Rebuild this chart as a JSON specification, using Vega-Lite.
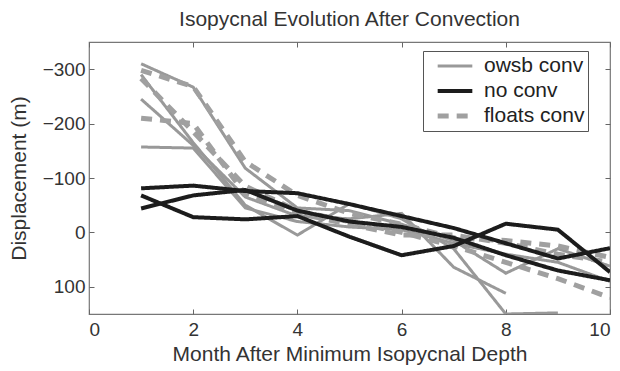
{
  "$schema": "https://vega.github.io/schema/vega-lite/v6.json",
  "width": 521,
  "height": 272,
  "autosize": {"type": "none"},
  "padding": {"left": 89, "top": 42, "right": 10, "bottom": 57},
  "background": "white",
  "title": {
    "text": "Isopycnal Evolution After Convection",
    "font": "Liberation Sans",
    "fontSize": 21,
    "fontWeight": "normal",
    "color": "#333333",
    "offset": 12
  },
  "config": {
    "view": {"stroke": "#777777", "strokeWidth": 1.2},
    "axis": {
      "labelFont": "Liberation Sans",
      "labelFontSize": 19,
      "labelColor": "#333333",
      "titleFont": "Liberation Sans",
      "titleFontSize": 21,
      "titleFontWeight": "normal",
      "titleColor": "#333333",
      "domain": false,
      "grid": false,
      "tickColor": "#666666",
      "tickSize": -5,
      "tickWidth": 1
    }
  },
  "data": {
    "values": [
      {"series": "S1", "type": "owsb conv", "month": 1, "disp": -310},
      {"series": "S1", "type": "owsb conv", "month": 2, "disp": -267},
      {"series": "S1", "type": "owsb conv", "month": 3, "disp": -118},
      {"series": "S1", "type": "owsb conv", "month": 4, "disp": -45},
      {"series": "S1", "type": "owsb conv", "month": 5, "disp": -40},
      {"series": "S1", "type": "owsb conv", "month": 6, "disp": -15},
      {"series": "S1", "type": "owsb conv", "month": 7, "disp": 15},
      {"series": "S1", "type": "owsb conv", "month": 8, "disp": 75},
      {"series": "S1", "type": "owsb conv", "month": 9, "disp": 30},
      {"series": "S1", "type": "owsb conv", "month": 10, "disp": 62},
      {"series": "S2", "type": "owsb conv", "month": 1, "disp": -290},
      {"series": "S2", "type": "owsb conv", "month": 2, "disp": -165},
      {"series": "S2", "type": "owsb conv", "month": 3, "disp": -50},
      {"series": "S2", "type": "owsb conv", "month": 4, "disp": 5},
      {"series": "S2", "type": "owsb conv", "month": 5, "disp": -53},
      {"series": "S2", "type": "owsb conv", "month": 6, "disp": -25},
      {"series": "S2", "type": "owsb conv", "month": 7, "disp": 30},
      {"series": "S2", "type": "owsb conv", "month": 8, "disp": 150},
      {"series": "S2", "type": "owsb conv", "month": 9, "disp": 148},
      {"series": "S3", "type": "owsb conv", "month": 1, "disp": -245},
      {"series": "S3", "type": "owsb conv", "month": 2, "disp": -160},
      {"series": "S3", "type": "owsb conv", "month": 3, "disp": -65},
      {"series": "S3", "type": "owsb conv", "month": 4, "disp": -30},
      {"series": "S3", "type": "owsb conv", "month": 5, "disp": -25},
      {"series": "S3", "type": "owsb conv", "month": 6, "disp": -35},
      {"series": "S3", "type": "owsb conv", "month": 7, "disp": 64},
      {"series": "S3", "type": "owsb conv", "month": 8, "disp": 112},
      {"series": "S4", "type": "owsb conv", "month": 1, "disp": -157},
      {"series": "S4", "type": "owsb conv", "month": 2, "disp": -155},
      {"series": "S4", "type": "owsb conv", "month": 3, "disp": -45},
      {"series": "S4", "type": "owsb conv", "month": 4, "disp": -20},
      {"series": "S4", "type": "owsb conv", "month": 5, "disp": -10},
      {"series": "S4", "type": "owsb conv", "month": 6, "disp": -5},
      {"series": "S4", "type": "owsb conv", "month": 7, "disp": 20},
      {"series": "S4", "type": "owsb conv", "month": 8, "disp": 40},
      {"series": "S4", "type": "owsb conv", "month": 9, "disp": 55},
      {"series": "S4", "type": "owsb conv", "month": 10, "disp": 90},
      {"series": "D1", "type": "floats conv", "month": 1, "disp": -298},
      {"series": "D1", "type": "floats conv", "month": 2, "disp": -268},
      {"series": "D1", "type": "floats conv", "month": 3, "disp": -130},
      {"series": "D1", "type": "floats conv", "month": 4, "disp": -68},
      {"series": "D1", "type": "floats conv", "month": 5, "disp": -35},
      {"series": "D1", "type": "floats conv", "month": 6, "disp": -15},
      {"series": "D1", "type": "floats conv", "month": 7, "disp": 10},
      {"series": "D1", "type": "floats conv", "month": 8, "disp": 15},
      {"series": "D1", "type": "floats conv", "month": 9, "disp": 25},
      {"series": "D1", "type": "floats conv", "month": 10, "disp": 46},
      {"series": "D2", "type": "floats conv", "month": 1, "disp": -283},
      {"series": "D2", "type": "floats conv", "month": 2, "disp": -185},
      {"series": "D2", "type": "floats conv", "month": 3, "disp": -85},
      {"series": "D2", "type": "floats conv", "month": 4, "disp": -40},
      {"series": "D2", "type": "floats conv", "month": 5, "disp": -20},
      {"series": "D2", "type": "floats conv", "month": 6, "disp": 0},
      {"series": "D2", "type": "floats conv", "month": 7, "disp": 25},
      {"series": "D2", "type": "floats conv", "month": 8, "disp": 55},
      {"series": "D2", "type": "floats conv", "month": 9, "disp": 85},
      {"series": "D2", "type": "floats conv", "month": 10, "disp": 120},
      {"series": "D3", "type": "floats conv", "month": 1, "disp": -210},
      {"series": "D3", "type": "floats conv", "month": 2, "disp": -200},
      {"series": "D3", "type": "floats conv", "month": 3, "disp": -70},
      {"series": "D3", "type": "floats conv", "month": 4, "disp": -35},
      {"series": "D3", "type": "floats conv", "month": 5, "disp": -15},
      {"series": "D3", "type": "floats conv", "month": 6, "disp": 5},
      {"series": "D3", "type": "floats conv", "month": 7, "disp": 5},
      {"series": "D3", "type": "floats conv", "month": 8, "disp": 20},
      {"series": "D3", "type": "floats conv", "month": 9, "disp": 40},
      {"series": "D3", "type": "floats conv", "month": 10, "disp": 55},
      {"series": "B1", "type": "no conv", "month": 1, "disp": -81},
      {"series": "B1", "type": "no conv", "month": 2, "disp": -86},
      {"series": "B1", "type": "no conv", "month": 3, "disp": -76},
      {"series": "B1", "type": "no conv", "month": 4, "disp": -72},
      {"series": "B1", "type": "no conv", "month": 5, "disp": -52},
      {"series": "B1", "type": "no conv", "month": 6, "disp": -30},
      {"series": "B1", "type": "no conv", "month": 7, "disp": -8},
      {"series": "B1", "type": "no conv", "month": 8, "disp": 20},
      {"series": "B1", "type": "no conv", "month": 9, "disp": 48},
      {"series": "B1", "type": "no conv", "month": 10, "disp": 29},
      {"series": "B2", "type": "no conv", "month": 1, "disp": -68},
      {"series": "B2", "type": "no conv", "month": 2, "disp": -28},
      {"series": "B2", "type": "no conv", "month": 3, "disp": -24},
      {"series": "B2", "type": "no conv", "month": 4, "disp": -30},
      {"series": "B2", "type": "no conv", "month": 5, "disp": 8},
      {"series": "B2", "type": "no conv", "month": 6, "disp": 42},
      {"series": "B2", "type": "no conv", "month": 7, "disp": 25},
      {"series": "B2", "type": "no conv", "month": 8, "disp": -16},
      {"series": "B2", "type": "no conv", "month": 9, "disp": -5},
      {"series": "B2", "type": "no conv", "month": 10, "disp": 73},
      {"series": "B3", "type": "no conv", "month": 1, "disp": -44},
      {"series": "B3", "type": "no conv", "month": 2, "disp": -68},
      {"series": "B3", "type": "no conv", "month": 3, "disp": -78},
      {"series": "B3", "type": "no conv", "month": 4, "disp": -40},
      {"series": "B3", "type": "no conv", "month": 5, "disp": -20},
      {"series": "B3", "type": "no conv", "month": 6, "disp": -10},
      {"series": "B3", "type": "no conv", "month": 7, "disp": 10},
      {"series": "B3", "type": "no conv", "month": 8, "disp": 42},
      {"series": "B3", "type": "no conv", "month": 9, "disp": 70},
      {"series": "B3", "type": "no conv", "month": 10, "disp": 88}
    ]
  },
  "layer": [
    {
      "mark": {"type": "line", "clip": true, "strokeCap": "butt", "strokeJoin": "miter"},
      "encoding": {
        "x": {
          "field": "month", "type": "quantitative",
          "scale": {"domain": [0, 10], "nice": false, "zero": false},
          "axis": {"orient": "bottom", "values": [0, 2, 4, 6, 8, 10], "title": "Month After Minimum Isopycnal Depth", "labelPadding": 11, "titlePadding": 4}
        },
        "y": {
          "field": "disp", "type": "quantitative",
          "scale": {"domain": [-350, 150], "reverse": true, "nice": false, "zero": false},
          "axis": {"orient": "left", "values": [-300, -200, -100, 0, 100], "title": "Displacement (m)", "labelPadding": 9, "titlePadding": 13}
        },
        "detail": {"field": "series"},
        "color": {
          "field": "type", "type": "nominal",
          "scale": {"domain": ["owsb conv", "no conv", "floats conv"], "range": ["#999999", "#1c1c1c", "#a0a0a0"]},
          "legend": {
            "title": null,
            "orient": "none",
            "legendX": 334,
            "legendY": 9,
            "strokeColor": "#555555",
            "fillColor": "white",
            "padding": 3,
            "symbolOffset": 9,
            "symbolType": "stroke",
            "symbolSize": 1200,
            "clipHeight": 24,
            "rowPadding": 1,
            "labelFont": "Liberation Sans",
            "labelFontSize": 21,
            "labelColor": "#222222",
            "labelOffset": 9,
            "labelExpr": "datum.label + '   '"
          }
        },
        "strokeWidth": {
          "field": "type", "type": "nominal",
          "scale": {"domain": ["owsb conv", "no conv", "floats conv"], "range": [3, 5, 3]},
          "legend": null
        },
        "strokeDash": {
          "field": "type", "type": "nominal",
          "scale": {"domain": ["owsb conv", "no conv", "floats conv"], "range": [[1, 0], [1, 0], [11, 8]]},
          "legend": {"title": null}
        }
      }
    },
    {
      "mark": {"type": "line", "opacity": 0},
      "encoding": {
        "x": {"field": "month", "type": "quantitative", "axis": {"orient": "top", "values": [0, 2, 4, 6, 8, 10], "labels": false, "title": null}},
        "y": {"field": "disp", "type": "quantitative", "axis": {"orient": "right", "values": [-300, -200, -100, 0, 100], "labels": false, "title": null}},
        "detail": {"field": "series"}
      }
    }
  ],
  "resolve": {"axis": {"x": "independent", "y": "independent"}}
}
